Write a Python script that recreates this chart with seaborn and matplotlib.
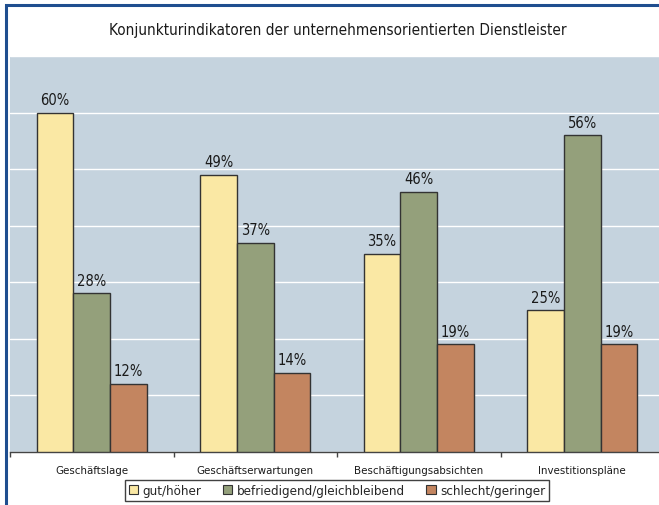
import matplotlib
matplotlib.use("Agg")
import matplotlib.pyplot as plt
from matplotlib.patches import Rectangle
import seaborn as sns
import pandas as pd

categories = ["Geschäftslage", "Geschäftserwartungen", "Beschäftigungsabsichten", "Investitionspläne"]
series = ["gut/höher", "befriedigend/gleichbleibend", "schlecht/geringer"]
gut = [60, 49, 35, 25]
befriedigend = [28, 37, 46, 56]
schlecht = [12, 14, 19, 19]
title = "Konjunkturindikatoren der unternehmensorientierten Dienstleister"

colors = ["#FAE8A4", "#94A07B", "#C38560"]

rows = []
for s, vals in zip(series, [gut, befriedigend, schlecht]):
    for c, v in zip(categories, vals):
        rows.append({"Kategorie": c, "Wert": v, "Serie": s})
df = pd.DataFrame(rows)

sns.set_theme(style="white")
plt.rcParams["font.family"] = ["DejaVu Sans"]
plt.rcParams["font.stretch"] = "condensed"

W, H = 659, 506
fig = plt.figure(figsize=(W / 100, H / 100), dpi=100)
fig.patch.set_facecolor("white")

ax = fig.add_axes([10 / W, 53.3 / H, 654 / W, 395.7 / H])
ax.set_facecolor("#C5D3DE")

sns.barplot(data=df, x="Kategorie", y="Wert", hue="Serie", order=categories,
            hue_order=series, palette=colors, saturation=1, width=0.675,
            edgecolor="#333333", linewidth=1.0, ax=ax, legend=True, zorder=3)

for cont in ax.containers:
    ax.bar_label(cont, fmt="%d%%", padding=4, fontsize=10.5, color="#1a1a1a")

ax.set_ylim(0, 70)
ax.set_xlim(-0.5, 3.5)
ax.set_yticks(range(0, 71, 10))
ax.yaxis.grid(True, color="white", linewidth=1.0, zorder=0)
ax.set_axisbelow(True)
ax.tick_params(axis="y", left=False, labelleft=False)
ax.set_xticks(range(len(categories)))
ax.set_xticklabels(categories, fontsize=8.2, color="#1a1a1a")
ax.set_xticks([-0.5, 0.5, 1.5, 2.5, 3.5], minor=True)
ax.tick_params(axis="x", which="major", length=0, pad=9.5)
ax.tick_params(axis="x", which="minor", length=3.5, width=1, color="#444444", direction="out", bottom=True)
ax.set_xlabel("")
ax.set_ylabel("")
for s in ["top", "right", "left"]:
    ax.spines[s].set_visible(False)
ax.spines["bottom"].set_color("#444444")
ax.spines["bottom"].set_linewidth(1)

leg = ax.legend(loc="center", bbox_to_anchor=(337 / W, 1 - 491.5 / H), bbox_transform=fig.transFigure,
                ncol=3, frameon=True, fancybox=False, fontsize=9.6, handlelength=0.7,
                handleheight=0.7, handletextpad=0.35, columnspacing=1.6,
                borderpad=0.3, edgecolor="#111111")
leg.get_frame().set_linewidth(1.0)
for h in leg.legend_handles:
    h.set_edgecolor("#333333")
    h.set_linewidth(0.8)

fig.text(338 / W, 1 - 31 / H, title, ha="center", va="center", fontsize=11, color="#1a1a1a")

fig.add_artist(Rectangle((6 / W, -0.1), 1.2, 1.1 - 5.5 / H, transform=fig.transFigure,
                         fill=False, edgecolor="#1F4E8F", linewidth=2.2))

fig.savefig("out.png", dpi=100)
